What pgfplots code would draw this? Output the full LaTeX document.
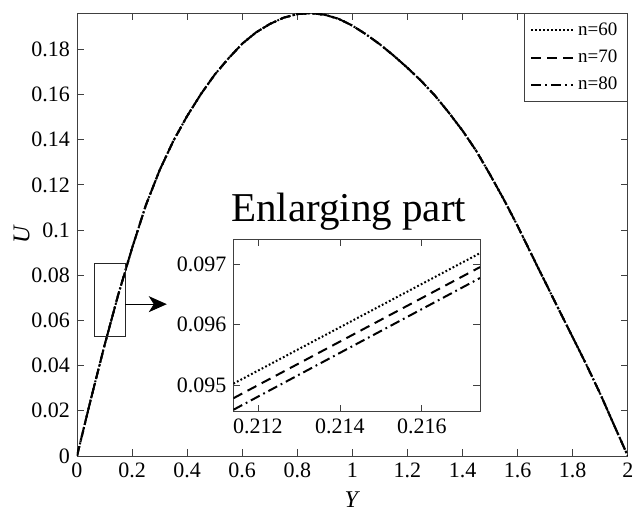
\documentclass[border=0pt]{standalone}
\usepackage{fontspec}
\setmainfont{Liberation Serif}
\usepackage{pgfplots}
\pgfplotsset{compat=1.18}
\usepackage{pgfplotstable}
\usetikzlibrary{arrows.meta}
\pgfplotsset{/pgf/number format/assume math mode=true}

\pgfplotstableread{
Y U
0 0
0.05 0.0250
0.1 0.0490
0.15 0.0715
0.2 0.0920
0.25 0.1110
0.3 0.1265
0.35 0.1395
0.4 0.1505
0.45 0.1602
0.5 0.1688
0.55 0.1760
0.6 0.1825
0.65 0.1875
0.7 0.1912
0.75 0.1940
0.8 0.1956
0.85 0.1960
0.9 0.1953
0.95 0.1935
1.0 0.1905
1.05 0.1866
1.1 0.1822
1.15 0.1772
1.2 0.1718
1.25 0.1660
1.3 0.1595
1.35 0.1520
1.4 0.1440
1.45 0.1350
1.5 0.1245
1.55 0.1135
1.6 0.1018
1.65 0.0893
1.7 0.0770
1.75 0.0647
1.8 0.0525
1.85 0.0403
1.9 0.0275
1.95 0.0137
2.0 0
}\maindata

\pgfplotstableread{
Y U
0.2114 0.09503
0.21742 0.09718
}\insetA
\pgfplotstableread{
Y U
0.2114 0.09479
0.21742 0.09695
}\insetB
\pgfplotstableread{
Y U
0.2114 0.09460
0.21742 0.09677
}\insetC

\tikzset{
  s60/.style={black, line width=1pt, dash pattern=on 0.9pt off 1.1pt},
  s70/.style={black, line width=1pt, dash pattern=on 5pt off 3pt},
  s80/.style={black, line width=1pt, dash pattern=on 5pt off 2pt on 0.9pt off 2pt},
}

\begin{document}
\begin{tikzpicture}
\path[use as bounding box] (-38.5pt,-31pt) rectangle (280.5pt,228pt);
\begin{axis}[
  at={(0pt,0pt)}, anchor=south west,
  scale only axis, width=275.4pt, height=221.4pt,
  xmin=0, xmax=2, ymin=0, ymax=0.196,
  xtick={0,0.2,0.4,0.6,0.8,1,1.2,1.4,1.6,1.8,2},
  ytick={0,0.02,0.04,0.06,0.08,0.1,0.12,0.14,0.16,0.18},
  scaled ticks=false,
  xticklabel={\pgfmathprintnumber{\tick}},
  yticklabel={\pgfmathprintnumber[fixed,precision=2]{\tick}},
  tick label style={font=\rmfamily\fontsize{11}{13}\selectfont},
  tick align=inside, major tick length=3.3pt,
  axis line style={black!75}, every tick/.style={black!75},
  xlabel={\textit{Y}}, ylabel={\textit{U}},
  ylabel shift=-6pt,
  label style={font=\fontsize{12}{14}\selectfont},
  legend style={at={(1,1)}, anchor=north east, draw=black!75,
    font=\fontsize{9.5}{11}\selectfont, inner xsep=3pt, inner ysep=2.5pt, row sep=1.8pt},
  legend cell align=left,
  legend image code/.code={\draw[#1] (0pt,0pt) -- (21pt,0pt);},
]
\addplot[s60] table[x=Y,y=U] {\maindata};
\addlegendentry{n=60}
\addplot[s70] table[x=Y,y=U] {\maindata};
\addlegendentry{n=70}
\addplot[s80] table[x=Y,y=U] {\maindata};
\addlegendentry{n=80}
\draw[black!85, line width=0.5pt] (axis cs:0.065,0.0531) rectangle (axis cs:0.1745,0.0853);
\draw[black, line width=0.5pt, -{Stealth[length=9pt,width=8pt,inset=2.5pt]}] (axis cs:0.1745,0.0672) -- (axis cs:0.326,0.0672);
\end{axis}
\begin{axis}[
  at={(78.2pt,22.2pt)}, anchor=south west,
  scale only axis, width=123.3pt, height=86.2pt,
  xmin=0.2114, xmax=0.21742, ymin=0.09457, ymax=0.09741,
  xtick={0.212,0.214,0.216}, ytick={0.095,0.096,0.097},
  scaled ticks=false,
  xticklabel={\pgfmathprintnumber[fixed,precision=3]{\tick}},
  yticklabel={\pgfmathprintnumber[fixed,precision=3]{\tick}},
  tick label style={font=\rmfamily\fontsize{11}{13}\selectfont},
  tick align=inside, major tick length=3.3pt,
  axis line style={black!75}, every tick/.style={black!75},
  axis background/.style={fill=white},
  title={Enlarging part},
  title style={font=\fontsize{20.5}{24}\selectfont, anchor=base, at={(0.5,1)}, yshift=2.8pt, xshift=-4pt},
]
\addplot[s60] table[x=Y,y=U] {\insetA};
\addplot[s70] table[x=Y,y=U] {\insetB};
\addplot[s80] table[x=Y,y=U] {\insetC};
\end{axis}
\end{tikzpicture}
\end{document}
